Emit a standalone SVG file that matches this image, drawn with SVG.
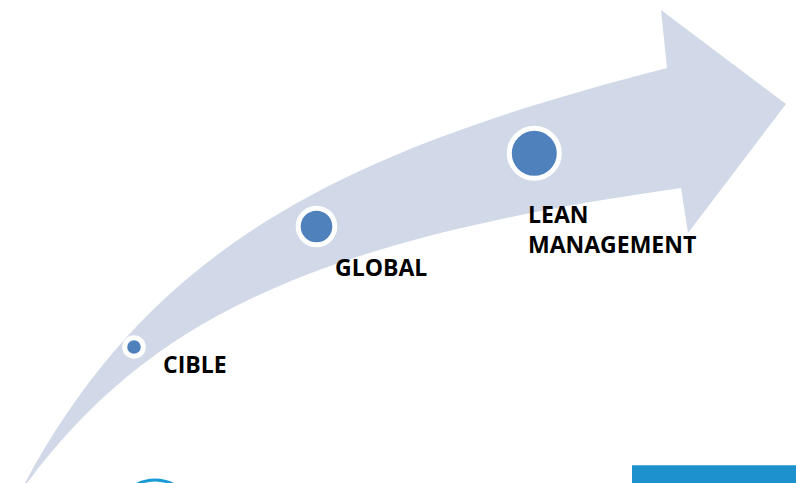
<svg xmlns="http://www.w3.org/2000/svg" width="796" height="483" viewBox="0 0 796 483">
<style>
.lbl{font-family:"Open Sans","Liberation Sans",sans-serif;font-weight:bold;font-size:23px;fill:#000}
.dot{fill:#4F81BD;stroke:#fff;stroke-width:5}
</style>
<rect width="796" height="483" fill="#fff"/>
<g id="arrow">
<path d="M25,483 C157,237 357,148 667,68 L661,10 L786,104 L688,233 L681,188 C305,241 147,323 27,483 Z" fill="#D1D8E7"/>
</g>
<g id="node-cible">
<circle class="dot" cx="134" cy="347" r="9.3"/>
<text class="lbl" x="163" y="373">CIBLE</text>
</g>
<g id="node-global">
<circle class="dot" cx="316.5" cy="226.5" r="18.3"/>
<text class="lbl" x="335" y="276">GLOBAL</text>
</g>
<g id="node-lean">
<circle class="dot" cx="534.3" cy="153.3" r="25"/>
<text class="lbl" x="528" y="222.5">LEAN</text>
<text class="lbl" x="528" y="252.5">MANAGEMENT</text>
</g>
<g id="bottom-decor">
<circle cx="155" cy="520" r="40" fill="none" stroke="#1A9BD7" stroke-width="3"/>
<rect x="632" y="465" width="164" height="18" fill="#1D91CE"/>
<rect x="632" y="465" width="164" height="1" fill="#5AAEDC"/>
</g>
</svg>
